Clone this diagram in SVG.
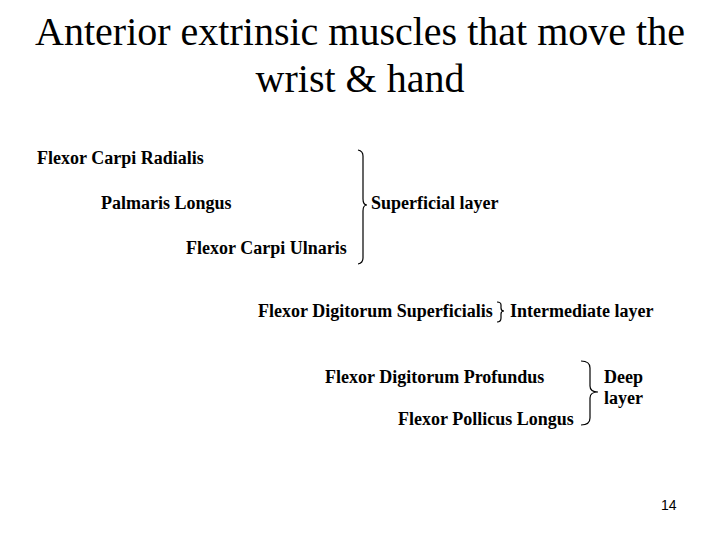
<svg xmlns="http://www.w3.org/2000/svg" width="720" height="540" viewBox="0 0 720 540">
<style>
.t{font-family:"Liberation Serif","Times New Roman",serif;font-size:40px;fill:#000}
.l{font-family:"Liberation Serif","Times New Roman",serif;font-size:18px;font-weight:bold;fill:#000}
.n{font-family:"Liberation Sans",Arial,sans-serif;font-size:14px;fill:#000}
.b{fill:none;stroke:#000;stroke-width:1.2}
</style>
<rect width="720" height="540" fill="#fff"/>
<g id="title">
<text class="t" x="360" y="45" text-anchor="middle">Anterior extrinsic muscles that move the</text>
<text class="t" x="360" y="92" text-anchor="middle">wrist &amp; hand</text>
</g>
<g id="fcr"><text class="l" x="37" y="164">Flexor Carpi Radialis</text></g>
<g id="pl"><text class="l" x="101" y="209">Palmaris Longus</text></g>
<g id="fcu"><text class="l" x="186" y="254">Flexor Carpi Ulnaris</text></g>
<g id="superficial"><text class="l" x="371" y="209">Superficial layer</text></g>
<g id="fds"><text class="l" x="258" y="317">Flexor Digitorum Superficialis</text></g>
<g id="intermediate"><text class="l" x="510" y="317">Intermediate layer</text></g>
<g id="fdp"><text class="l" x="325" y="383">Flexor Digitorum Profundus</text></g>
<g id="fpl"><text class="l" x="398" y="425">Flexor Pollicus Longus</text></g>
<g id="deep"><text class="l" x="604" y="383">Deep</text><text class="l" x="604" y="404">layer</text></g>
<g id="page"><text class="n" x="661" y="510">14</text></g>
<g id="connectors">
<path class="b" d="M358,150 Q363,151 363,156 L363,199 Q363,205 367,205 Q363,205 363,211 L363,258 Q363,263 358,264"/>
<path class="b" d="M497,302 Q501,302 501,305 L501,308 Q501,311 504,311 Q501,311 501,314 L501,318 Q501,322 497,322"/>
<path class="b" d="M581,361 Q590,361 590,368 L590,386 Q590,392 598,392 Q590,392 590,398 L590,418 Q590,425 581,425"/>
</g>
</svg>
